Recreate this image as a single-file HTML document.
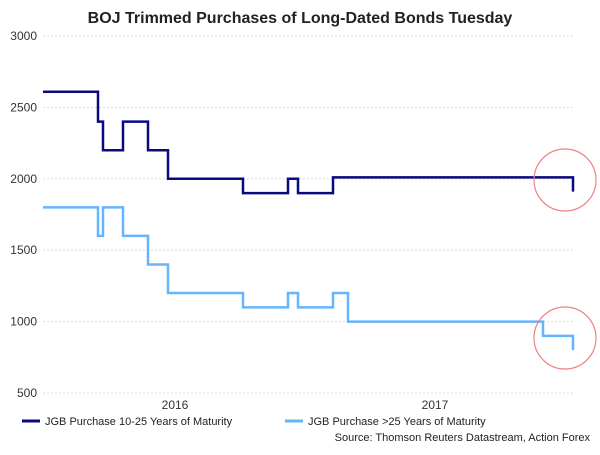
<!DOCTYPE html>
<html><head><meta charset="utf-8"><style>
body{margin:0;background:#fff;font-family:"Liberation Sans",sans-serif}
</style></head><body>
<svg id="c" width="600" height="450" xmlns="http://www.w3.org/2000/svg">
<text x="300" y="23" text-anchor="middle" font-size="16" font-weight="bold" fill="#222">BOJ Trimmed Purchases of Long-Dated Bonds Tuesday</text>
<g id="grid"></g><g id="ylab"></g><g id="xlab"></g><g id="lines"></g>
<circle cx="565" cy="180" r="31" fill="none" stroke="#f08080" stroke-width="1.2"/>
<circle cx="565" cy="338" r="31" fill="none" stroke="#f08080" stroke-width="1.2"/>
<g>
<line x1="22" y1="421" x2="40" y2="421" stroke="#0a0a80" stroke-width="3"/>
<text x="45" y="425" font-size="11" fill="#222">JGB Purchase 10-25 Years of Maturity</text>
<line x1="285" y1="421" x2="303" y2="421" stroke="#66b3ff" stroke-width="3"/>
<text x="308" y="425" font-size="11" fill="#222">JGB Purchase &gt;25 Years of Maturity</text>
</g>
<text x="590" y="441" text-anchor="end" font-size="11" fill="#222">Source: Thomson Reuters Datastream, Action Forex</text>
</svg>
<script>
const yTicks=[3000,2500,2000,1500,1000,500];
const xLabels=["2016","2017"];
const xLabelWeeks=[26.4,78.4];
const longWeeks=[0,11,12,16,21,25,40,49,51,58,106];
const longValues=[2610,2400,2200,2400,2200,2000,1900,2000,1900,2010,1910];
const superWeeks=[0,11,12,16,21,25,40,49,51,58,61,100,106];
const superValues=[1800,1600,1800,1600,1400,1200,1100,1200,1100,1200,1000,900,800];
const NS="http://www.w3.org/2000/svg";
const xs=w=>43+w*5;
const ys=v=>36+(3000-v)*(357/2500);
function mk(t,a,p){const e=document.createElementNS(NS,t);for(const k in a)e.setAttribute(k,a[k]);document.getElementById(p).appendChild(e);return e;}
yTicks.forEach(v=>{
 const g=mk('line',{x1:43,x2:575,y1:ys(v),y2:ys(v),stroke:'#ddd','stroke-dasharray':'2,2'},'grid');
 
 
 const t=mk('text',{x:37,y:ys(v)+4,'text-anchor':'end','font-size':'12',fill:'#333'},'ylab');t.textContent=v;
 
 
});
xLabels.forEach((l,i)=>{
 const t=mk('text',{x:xs(xLabelWeeks[i]),y:409,'text-anchor':'middle','font-size':'12',fill:'#333'},'xlab');t.textContent=l;
 
 
});
function step(W,V){let p=[];for(let i=0;i<W.length;i++){const x=xs(W[i]);if(i>0)p.push(x+','+ys(V[i-1]));p.push(x+','+ys(V[i]));}return p.join(' ');}
const a=mk('polyline',{points:step(longWeeks,longValues),fill:'none',stroke:'#0a0a80','stroke-width':2.5},'lines');


const b=mk('polyline',{points:step(superWeeks,superValues),fill:'none',stroke:'#66b3ff','stroke-width':2.5},'lines');


</script>
</body></html>
